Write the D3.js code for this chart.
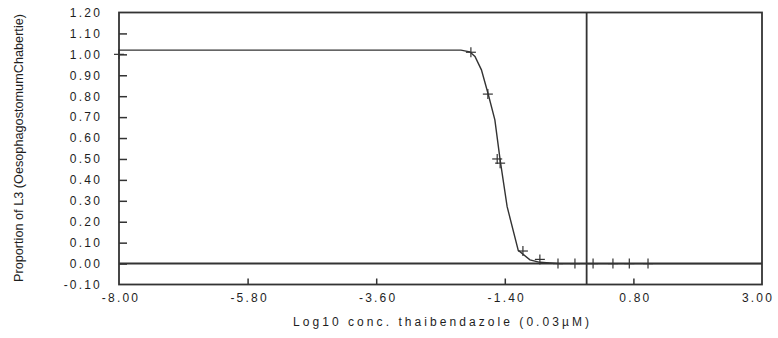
<!DOCTYPE html>
<html>
<head>
<meta charset="utf-8">
<script src="https://cdn.jsdelivr.net/npm/d3@7"></script>
<style>
  html, body { margin: 0; padding: 0; background: #fff; }
  svg { display: block; }
</style>
</head>
<body>
<svg id="chart" width="778" height="338"></svg>
<script>
// Observed proportions of L3 larvae at each log10 concentration
const doseLog = [-8.00, -1.98, -1.69, -1.53, -1.48, -1.09, -0.80, -0.49, -0.20, 0.11, 0.45, 0.73, 1.05];
const proportion = [1.00, 1.01, 0.81, 0.50, 0.48, 0.06, 0.02, 0.00, 0.00, 0.00, 0.00, 0.00, 0.00];

// Fitted dose-response curve
const fitX = [-8.00, -2.15, -2.00, -1.91, -1.80, -1.68, -1.57, -1.48, -1.36, -1.17, -0.97, -0.80, -0.46, 3.00];
const fitY = [1.02, 1.02, 1.012, 0.99, 0.926, 0.806, 0.687, 0.496, 0.272, 0.063, 0.018, 0.006, 0.00, 0.00];

// Axis ticks
const xTicks = [-8.00, -5.80, -3.60, -1.40, 0.80, 3.00];
const yTicks = [1.20, 1.10, 1.00, 0.90, 0.80, 0.70, 0.60, 0.50, 0.40, 0.30, 0.20, 0.10, 0.00, -0.10];

const xTitle = "Log10 conc. thaibendazole (0.03\u00B5M)";
const yTitle = "Proportion of L3 (OesophagostomumChabertie)";

(function draw() {
  const svg = d3.select("#chart");
  const ink = "#333";
  const textInk = "#1e1e1e";
  // two decimals, plain hyphen for negatives
  const fmt = d => d3.format(".2f")(d).replace("\u2212", "-");

  const plotL = 119, plotR = 762, plotT = 12.5, plotB = 284.5;
  const x = d3.scaleLinear().domain([-8, 3]).range([plotL, plotR]);
  const y = d3.scaleLinear().domain([-0.1, 1.2]).range([plotB, plotT]);

  // Y axis: ticks point inward
  const yAxis = d3.axisRight(y).tickValues(yTicks.filter(v => v > -0.1 && v < 1.2))
    .tickSize(8).tickFormat("");
  const gy = svg.append("g").attr("transform", `translate(${plotL},0)`).call(yAxis);
  gy.select(".domain").remove();
  gy.selectAll(".tick line").attr("stroke", ink).attr("stroke-width", 1.5);

  // X axis: ticks point upward from the bottom frame
  const xAxis = d3.axisTop(x).tickValues(xTicks.filter(v => v > -8 && v < 3))
    .tickSize(6).tickFormat("");
  const gx = svg.append("g").attr("transform", `translate(0,${plotB})`).call(xAxis);
  gx.select(".domain").remove();
  gx.selectAll(".tick line").attr("stroke", ink).attr("stroke-width", 1.5);

  // Tick labels
  svg.append("g").selectAll("text").data(yTicks).join("text")
    .attr("x", 102).attr("y", d => y(d)).attr("dy", "0.36em")
    .attr("text-anchor", "end")
    .attr("font-family", "Liberation Sans, Arial, sans-serif")
    .attr("font-size", 12).attr("letter-spacing", "2.2px")
    .attr("fill", textInk)
    .text(fmt);

  svg.append("g").selectAll("text").data(xTicks).join("text")
    .attr("x", d => Math.min(x(d) + 2, 758)).attr("y", 302)
    .attr("text-anchor", "middle")
    .attr("font-family", "Liberation Sans, Arial, sans-serif")
    .attr("font-size", 12).attr("letter-spacing", "2.2px")
    .attr("fill", textInk)
    .text(fmt);

  // Axis titles
  svg.append("text")
    .attr("x", 441).attr("y", 326)
    .attr("text-anchor", "middle")
    .attr("font-family", "Liberation Sans, Arial, sans-serif")
    .attr("font-size", 12)
    .attr("textLength", 296).attr("lengthAdjust", "spacing")
    .attr("fill", textInk)
    .text(xTitle);

  svg.append("text")
    .attr("transform", "translate(23,148) rotate(-90)")
    .attr("text-anchor", "middle")
    .attr("font-family", "Liberation Sans Narrow, Arial Narrow, sans-serif")
    .attr("font-size", 12.5)
    .attr("textLength", 268).attr("lengthAdjust", "spacingAndGlyphs")
    .attr("fill", textInk)
    .text(yTitle);

  // Reference lines at x = 0 and y = 0
  svg.append("line")
    .attr("x1", x(0)).attr("x2", x(0)).attr("y1", plotT).attr("y2", plotB)
    .attr("stroke", ink).attr("stroke-width", 1.8);
  svg.append("line")
    .attr("x1", plotL).attr("x2", plotR).attr("y1", y(0)).attr("y2", y(0))
    .attr("stroke", ink).attr("stroke-width", 2);

  // Fitted curve
  const fit = fitX.map((v, i) => [v, fitY[i]]);
  svg.append("path")
    .datum(fit)
    .attr("fill", "none")
    .attr("stroke", ink).attr("stroke-width", 1.4)
    .attr("d", d3.line().x(d => x(d[0])).y(d => y(d[1])));

  // Observed points as plus markers
  const pts = doseLog.map((v, i) => [v, proportion[i]]);
  const arm = 5;
  const mk = svg.append("g").attr("stroke", ink).attr("stroke-width", 1.2);
  mk.selectAll("g").data(pts).join("g")
    .attr("transform", d => `translate(${x(d[0])},${y(d[1])})`)
    .each(function () {
      const g = d3.select(this);
      g.append("line").attr("x1", -arm).attr("x2", arm).attr("y1", 0).attr("y2", 0);
      g.append("line").attr("x1", 0).attr("x2", 0).attr("y1", -arm).attr("y2", arm);
    });

  // Plot frame
  svg.append("rect")
    .attr("x", plotL).attr("y", plotT)
    .attr("width", plotR - plotL).attr("height", plotB - plotT)
    .attr("fill", "none").attr("stroke", ink).attr("stroke-width", 1.8);
})();
</script>
</body>
</html>
